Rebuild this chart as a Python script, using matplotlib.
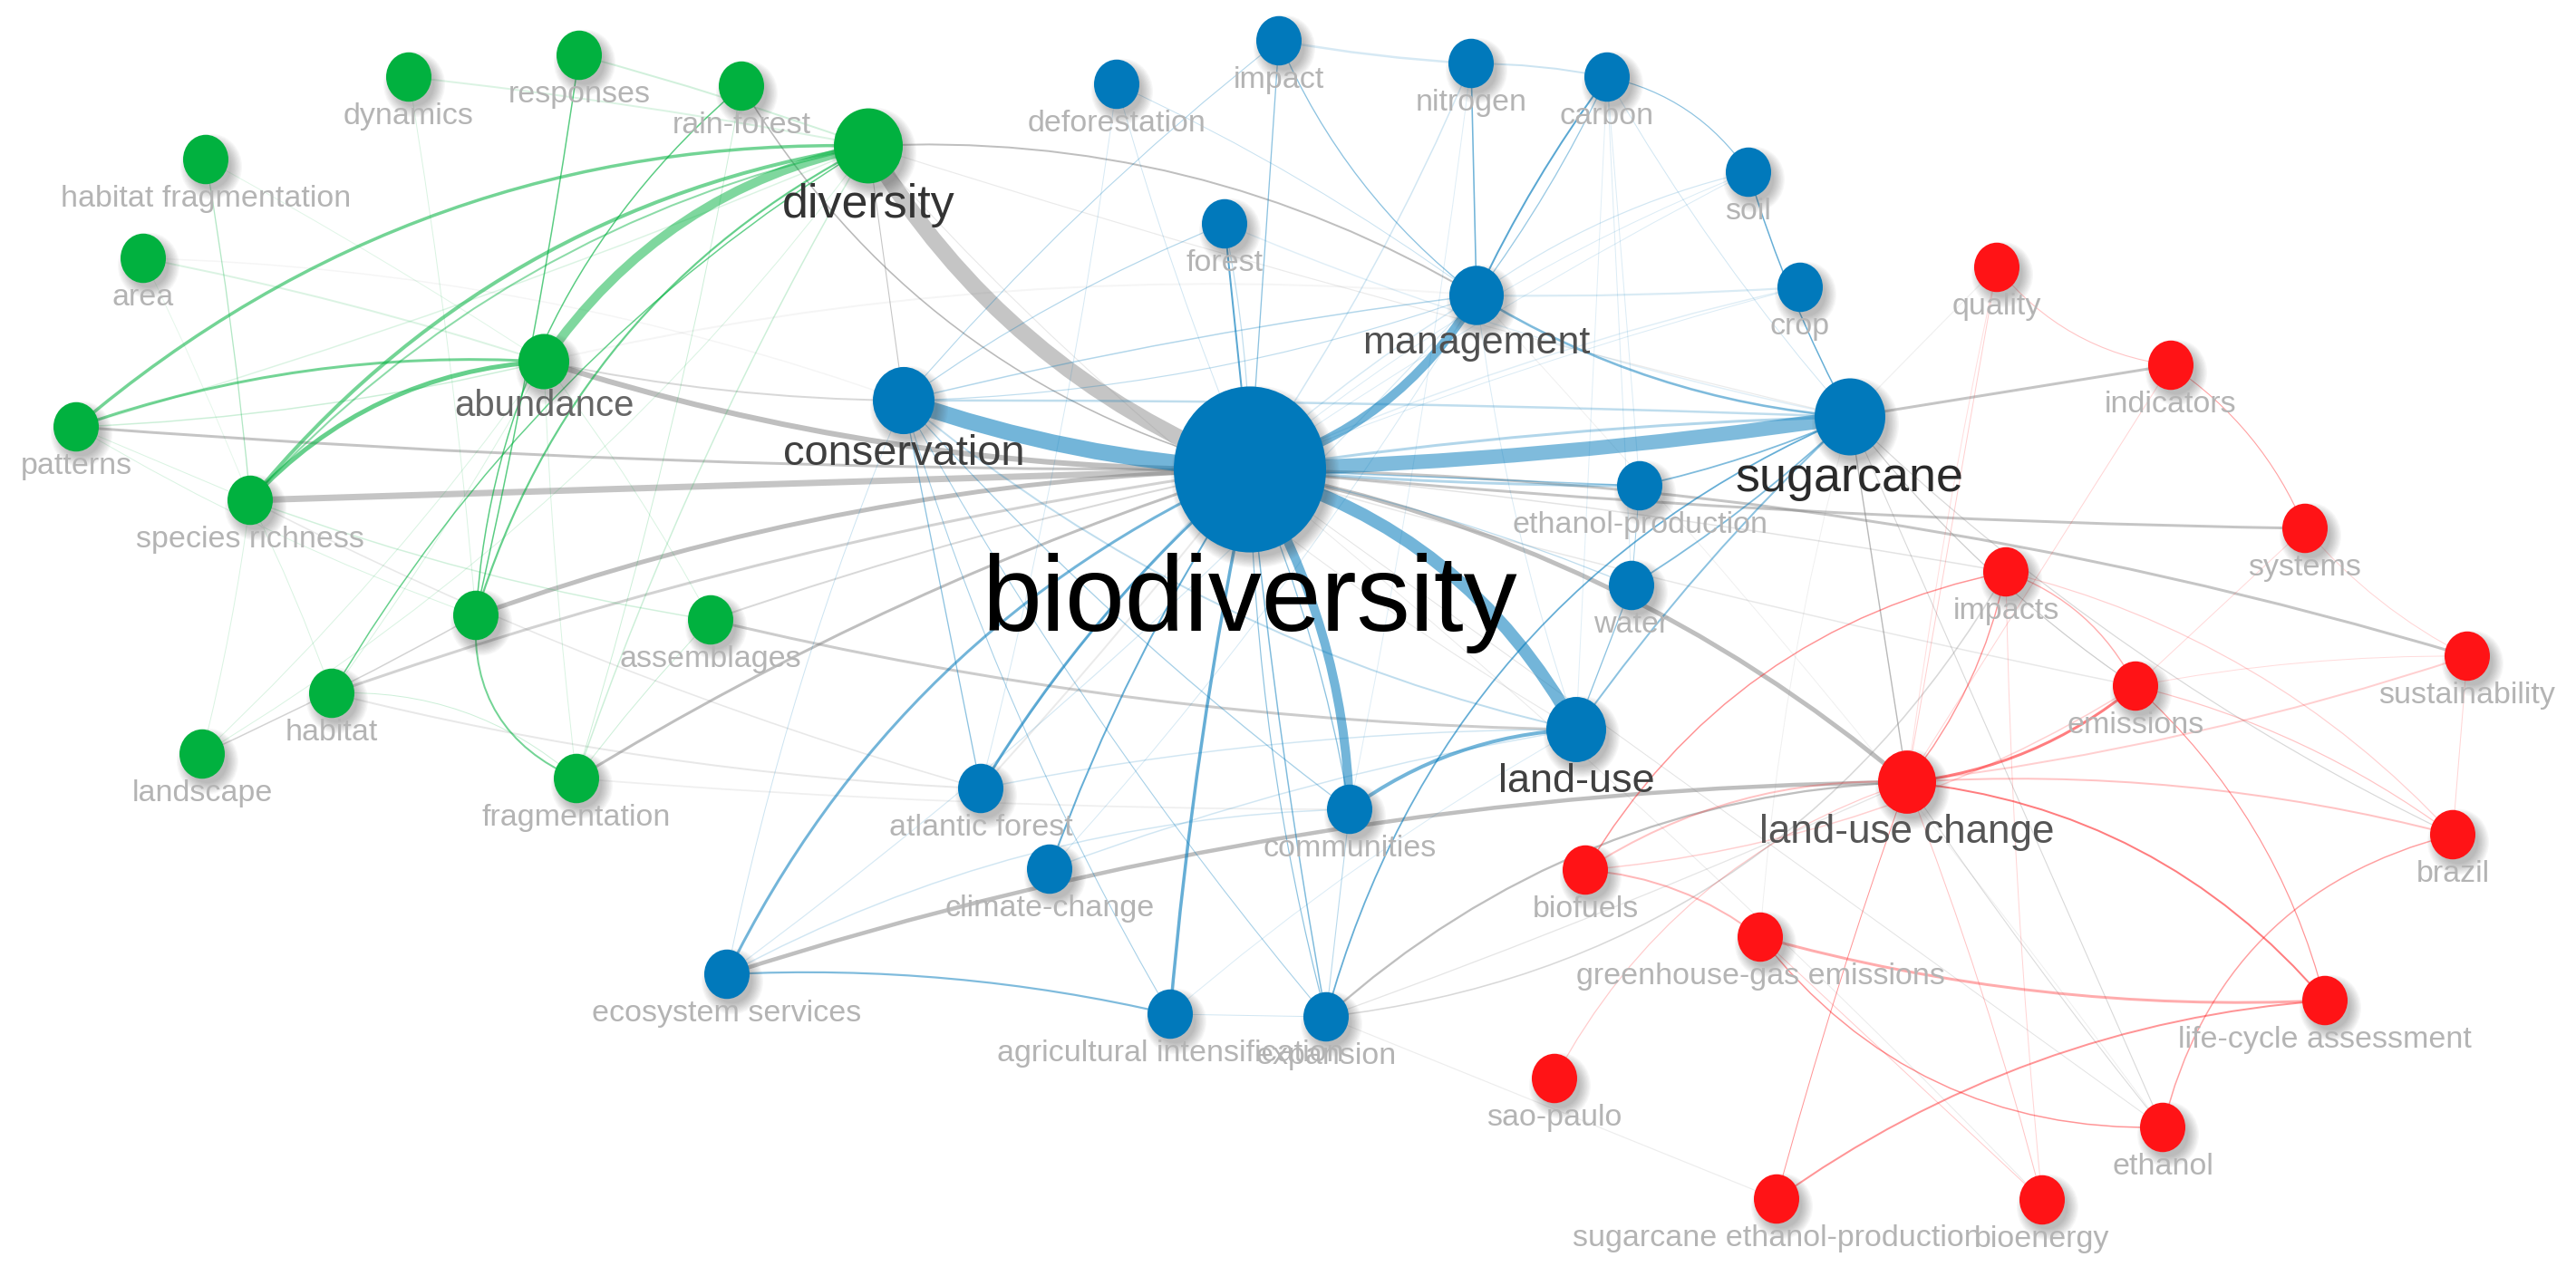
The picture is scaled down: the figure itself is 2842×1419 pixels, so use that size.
import matplotlib
matplotlib.use("Agg")
import numpy as np
import matplotlib.pyplot as plt
from matplotlib.patches import Ellipse, PathPatch
from matplotlib.path import Path

plt.rcParams['font.family'] = ['Liberation Sans', 'DejaVu Sans']

# ---------- data: network nodes (layout position in image pixels) ----------
node_ids = ['biodiversity', 'diversity', 'conservation', 'abundance', 'management', 'sugarcane', 'landuse', 'luc',
            'dynamics', 'responses', 'rainforest', 'habfrag', 'area', 'patterns', 'richness', 'greennode',
            'assemblages', 'habitat', 'landscape', 'fragmentation',
            'impact', 'deforestation', 'nitrogen', 'carbon', 'soil', 'crop', 'forest', 'ethprod', 'water',
            'communities', 'atlantic', 'climate', 'ecoserv', 'agri', 'expansion',
            'quality', 'indicators', 'systems', 'impacts', 'emissions', 'sustainability', 'brazil', 'biofuels',
            'ghg', 'lca', 'ethanol', 'saopaulo', 'sugeth', 'bioenergy']
node_labels = ['biodiversity', 'diversity', 'conservation', 'abundance', 'management', 'sugarcane', 'land-use', 'land-use change',
               'dynamics', 'responses', 'rain-forest', 'habitat fragmentation', 'area', 'patterns', 'species richness', '',
               'assemblages', 'habitat', 'landscape', 'fragmentation',
               'impact', 'deforestation', 'nitrogen', 'carbon', 'soil', 'crop', 'forest', 'ethanol-production', 'water',
               'communities', 'atlantic forest', 'climate-change', 'ecosystem services', 'agricultural intensification', 'expansion',
               'quality', 'indicators', 'systems', 'impacts', 'emissions', 'sustainability', 'brazil', 'biofuels',
               'greenhouse-gas emissions', 'life-cycle assessment', 'ethanol', 'sao-paulo', 'sugarcane ethanol-production', 'bioenergy']
node_x = [1379, 958, 997, 600, 1629, 2041, 1739, 2104,
          451, 639, 818, 227, 158, 84, 276, 525, 784, 366, 223, 636,
          1411, 1232, 1623, 1773, 1929, 1986, 1351, 1809, 1800, 1489, 1082, 1158, 802, 1291, 1463,
          2203, 2395, 2543, 2213, 2356, 2722, 2706, 1749, 1942, 2565, 2386, 1715, 1960, 2253]
node_y = [518, 161, 442, 399, 326, 460, 805, 863,
          85, 61, 95, 176, 285, 471, 552, 679, 684, 765, 832, 859,
          45, 93, 70, 85, 190, 317, 247, 536, 646, 893, 870, 959, 1075, 1119, 1122,
          295, 403, 583, 631, 757, 724, 921, 960, 1034, 1104, 1244, 1190, 1323, 1324]
node_rx = [84, 38, 34, 28, 30, 39, 33, 32] + [25] * 41
node_cluster = ['blue', 'green', 'blue', 'green', 'blue', 'blue', 'blue', 'red'] + ['green'] * 12 + ['blue'] * 15 + ['red'] * 14
label_px = [118, 52, 47, 40, 43, 54, 45, 44] + [34] * 41
label_color = ['#000000', '#333333', '#3f3f3f', '#666666', '#505050', '#2a2a2a', '#404040', '#555555'] + ['#b4b4b4'] * 41

cluster_colors = {'green': '#01b13f', 'blue': '#0179bb', 'red': '#ff1316'}
cross_color = '#808080'

# ---------- data: links (from, to, width px, bow, opacity) ----------
green_links = [
    ('diversity', 'abundance', 10, -0.20, .5), ('diversity', 'richness', 4, -0.19, .55),
    ('diversity', 'patterns', 3.5, -0.19, .55), ('diversity', 'greennode', 2.2, -0.21, .6),
    ('diversity', 'richness', 2, -0.16, .45), ('abundance', 'patterns', 3, -0.10, .55),
    ('richness', 'abundance', 5, 0.20, .6), ('greennode', 'fragmentation', 2, -0.35, .55),
    ('rainforest', 'greennode', 1.5, -0.21, .65), ('responses', 'greennode', 1.5, 0.02, .65),
    ('diversity', 'habitat', 1.5, -0.125, .6),
    ('rainforest', 'fragmentation', 1, 0.03, .2),
    ('responses', 'diversity', 2, 0.02, .18), ('dynamics', 'diversity', 2, 0.02, .14),
    ('habfrag', 'richness', 1.3, 0.02, .3), ('area', 'abundance', 2, 0.03, .14),
    ('area', 'richness', 1, 0.02, .1), ('habfrag', 'abundance', 1, 0.02, .12),
    ('dynamics', 'greennode', 1, 0.02, .15), ('patterns', 'richness', 1, 0.0, .15),
    ('patterns', 'greennode', 1, -0.05, .15), ('richness', 'assemblages', 1.5, -0.05, .18),
    ('richness', 'landscape', 1, 0.03, .15), ('abundance', 'landscape', 1, 0.05, .15),
    ('abundance', 'fragmentation', 1, -0.02, .15), ('abundance', 'habitat', 1, 0.03, .15),
    ('diversity', 'fragmentation', 1.5, -0.05, .2), ('diversity', 'landscape', 1, 0.1, .15),
    ('habitat', 'fragmentation', 1, 0.2, .2), ('assemblages', 'abundance', 1, -0.04, .15),
    ('richness', 'habitat', 1, 0.03, .15), ('fragmentation', 'assemblages', 1, 0.03, .2),
    ('patterns', 'abundance', 1.5, -0.05, .2), ('patterns', 'diversity', 1.5, -0.03, .14),
]
blue_links = [
    ('conservation', 'biodiversity', 18, -0.07, .55), ('biodiversity', 'sugarcane', 16, -0.03, .5),
    ('biodiversity', 'management', 10, -0.20, .55), ('biodiversity', 'landuse', 14, 0.21, .55),
    ('biodiversity', 'communities', 10, 0.13, .55), ('ecoserv', 'biodiversity', 3, 0.18, .55),
    ('ecoserv', 'agri', 2.2, 0.07, .5), ('atlantic', 'biodiversity', 3, 0.08, .6),
    ('climate', 'biodiversity', 2, 0.06, .6), ('agri', 'biodiversity', 3.5, 0.03, .6),
    ('expansion', 'biodiversity', 1.5, 0.02, .5), ('expansion', 'sugarcane', 1.8, 0.24, .6),
    ('landuse', 'sugarcane', 2, 0.05, .45), ('communities', 'landuse', 4, 0.15, .55),
    ('atlantic', 'conservation', 1.3, 0.0, .45), ('biodiversity', 'forest', 2, 0.0, .65),
    ('biodiversity', 'impact', 1.3, 0.0, .45), ('impact', 'management', 1.3, -0.13, .45),
    ('nitrogen', 'management', 1.6, 0.0, .55), ('carbon', 'management', 2, -0.05, .65),
    ('carbon', 'management', 1.3, 0.05, .4), ('nitrogen', 'carbon', 2, 0.05, .2),
    ('impact', 'nitrogen', 2.5, -0.03, .16), ('carbon', 'soil', 1.2, 0.2, .45),
    ('soil', 'sugarcane', 1.5, -0.05, .6), ('crop', 'management', 2.2, 0.02, .15),
    ('management', 'sugarcane', 2.6, -0.12, .5), ('forest', 'sugarcane', 1.5, -0.05, .12),
    ('conservation', 'sugarcane', 2.5, 0.01, .25), ('biodiversity', 'sugarcane', 3, 0.03, .3),
    ('ethprod', 'biodiversity', 3, 0.02, .3), ('ethprod', 'sugarcane', 1.8, -0.05, .5),
    ('water', 'sugarcane', 1.8, -0.05, .5), ('water', 'biodiversity', 1.3, -0.05, .25),
    ('water', 'landuse', 1.3, 0.0, .45), ('water', 'ethprod', 1, 0.0, .35),
    ('conservation', 'management', 1.5, 0.03, .3), ('conservation', 'management', 1.2, -0.08, .25),
    ('conservation', 'forest', 1.2, 0.06, .3), ('conservation', 'impact', 1.1, 0.05, .3),
    ('conservation', 'expansion', 1.1, -0.05, .35),
    ('conservation', 'agri', 1.1, -0.06, .35), ('conservation', 'landuse', 2, -0.12, .25),
    ('conservation', 'communities', 1.3, -0.05, .35), ('deforestation', 'management', 1, 0.05, .22),
    ('deforestation', 'biodiversity', 1, -0.03, .18), ('deforestation', 'atlantic', 1, 0.03, .16),
    ('ecoserv', 'conservation', 1, 0.05, .2), ('ecoserv', 'management', 1.2, -0.05, .16),
    ('ecoserv', 'communities', 1.5, 0.12, .18), ('atlantic', 'landuse', 1.5, 0.05, .18),
    ('atlantic', 'management', 1.5, 0.12, .16), ('climate', 'landuse', 1.5, 0.05, .18),
    ('climate', 'management', 1, -0.05, .16), ('communities', 'biodiversity', 1.3, -0.06, .45),
    ('communities', 'expansion', 1.1, 0.0, .28), ('expansion', 'agri', 1, 0.0, .18),
    ('agri', 'landuse', 1, 0.05, .14), ('biodiversity', 'expansion', 1.2, -0.06, .45),
    ('biodiversity', 'crop', 1.5, 0.05, .12), ('biodiversity', 'soil', 1, 0.08, .14),
    ('carbon', 'sugarcane', 1, -0.05, .18), ('carbon', 'water', 1, 0.0, .14),
    ('carbon', 'ethprod', 1, 0.0, .14), ('carbon', 'landuse', 1, 0.0, .12),
    ('nitrogen', 'biodiversity', 1.5, 0.05, .18), ('nitrogen', 'communities', 1, 0.02, .13),
    ('soil', 'management', 1.2, -0.1, .18), ('soil', 'biodiversity', 1, -0.03, .14),
    ('crop', 'biodiversity', 1, -0.03, .14), ('forest', 'biodiversity', 1.2, 0.05, .25),
    ('management', 'landuse', 1, -0.05, .15), ('biodiversity', 'ethprod', 1.5, 0.0, .4),
]
red_links = [
    ('luc', 'emissions', 3, -0.15, .55), ('luc', 'lca', 2, 0.20, .55), ('luc', 'brazil', 2, 0.08, .25),
    ('luc', 'sustainability', 2, -0.05, .2), ('impacts', 'biofuels', 1.5, -0.22, .45),
    ('impacts', 'luc', 1.4, 0.12, .45), ('impacts', 'emissions', 1.4, 0.20, .35),
    ('emissions', 'lca', 1.2, 0.15, .45), ('impacts', 'brazil', 1.2, 0.15, .2),
    ('biofuels', 'luc', 2, 0.16, .25), ('biofuels', 'ghg', 2, 0.15, .3),
    ('ghg', 'lca', 3, -0.08, .35), ('ghg', 'ethanol', 1.5, -0.25, .45),
    ('ghg', 'bioenergy', 1, 0.0, .22), ('lca', 'sugeth', 2, -0.14, .45),
    ('sugeth', 'luc', 1, 0.02, .45), ('brazil', 'ethanol', 1.5, -0.30, .4),
    ('brazil', 'sustainability', 1, 0.0, .18), ('indicators', 'systems', 1.1, 0.15, .4),
    ('quality', 'indicators', 1.1, -0.20, .25), ('quality', 'luc', 1, 0.0, .2),
    ('indicators', 'luc', 1, 0.0, .18), ('systems', 'sustainability', 1, -0.1, .18),
    ('systems', 'emissions', 1, 0.0, .16), ('saopaulo', 'luc', 1.2, 0.20, .22),
    ('emissions', 'brazil', 1.2, 0.1, .25), ('sustainability', 'emissions', 1, -0.05, .15),
    ('emissions', 'biofuels', 1.5, 0.12, .2), ('luc', 'bioenergy', 1, 0.03, .25),
    ('impacts', 'bioenergy', 1, -0.02, .18), ('quality', 'luc', 1, -0.02, .14),
]
cross_links = [
    ('biodiversity', 'diversity', 18, 0.17, .45), ('abundance', 'biodiversity', 6, -0.08, .5),
    ('richness', 'biodiversity', 7, 0.0, .45), ('patterns', 'biodiversity', 3, -0.02, .45),
    ('greennode', 'biodiversity', 5, 0.08, .5), ('habitat', 'biodiversity', 3, 0.05, .35),
    ('fragmentation', 'biodiversity', 3, 0.06, .5), ('landscape', 'greennode', 1.5, -0.02, .35),
    ('assemblages', 'biodiversity', 2, 0.03, .3), ('assemblages', 'landuse', 3, -0.055, .4),
    ('ecoserv', 'luc', 4.5, 0.076, .5), ('biodiversity', 'luc', 5, 0.13, .5),
    ('sugarcane', 'indicators', 3, 0.0, .45), ('sugarcane', 'luc', 1.4, 0.0, .55),
    ('biodiversity', 'systems', 3, -0.02, .45), ('biodiversity', 'sustainability', 3, 0.07, .45),
    ('diversity', 'management', 2, 0.15, .5), ('abundance', 'conservation', 2, -0.05, .3),
    ('diversity', 'conservation', 1.1, 0.0, .45), ('rainforest', 'biodiversity', 1.6, -0.2, .55),
    ('expansion', 'luc', 2.3, 0.18, .5), ('expansion', 'luc', 1.3, -0.02, .2),
    ('expansion', 'impacts', 1.6, -0.25, .3), ('expansion', 'sugeth', 1.2, 0.0, .14),
    ('sugarcane', 'ethanol', 1.1, 0.0, .3), ('sugarcane', 'emissions', 1.2, -0.08, .4),
    ('management', 'ethanol', 1, 0.03, .12), ('biodiversity', 'ethanol', 1, 0.0, .22),
    ('biodiversity', 'bioenergy', 1, 0.03, .16), ('emissions', 'biodiversity', 1.5, 0.02, .18),
    ('biodiversity', 'impacts', 1.5, 0.02, .22), ('brazil', 'sugarcane', 1.2, 0.08, .3),
    ('luc', 'ethanol', 1.1, -0.02, .28), ('atlantic', 'biodiversity', 2, -0.02, .16),
    ('fragmentation', 'communities', 1.8, -0.02, .12), ('habitat', 'atlantic', 2, -0.05, .18),
    ('richness', 'atlantic', 1.6, -0.05, .18), ('area', 'conservation', 1.5, 0.08, .08),
    ('abundance', 'management', 2, 0.08, .08), ('diversity', 'sugarcane', 1.2, -0.02, .16),
    ('diversity', 'landuse', 1.1, -0.08, .18), ('sugarcane', 'quality', 1.2, 0.0, .12),
    ('ghg', 'sugarcane', 1, 0.05, .12),
]

# ---------- drawing ----------
fig = plt.figure(figsize=(28.42, 14.19), dpi=100, facecolor='white')
ax = fig.add_axes([0, 0, 1, 1])
ax.set_xlim(0, 2842)
ax.set_ylim(1419, 0)
ax.axis('off')

index = {n: i for i, n in enumerate(node_ids)}
PX = 72 / 100


def draw_link(a, b, width, bow, opacity, color):
    ia, ib = index[a], index[b]
    p0 = np.array([node_x[ia], node_y[ia]], float)
    p1 = np.array([node_x[ib], node_y[ib]], float)
    d = p1 - p0
    ctrl = (p0 + p1) / 2 + bow * np.array([d[1], -d[0]])
    path = Path([p0, ctrl, p1], [Path.MOVETO, Path.CURVE3, Path.CURVE3])
    ax.add_patch(PathPatch(path, fill=False, edgecolor=color, alpha=opacity,
                           lw=width * PX, capstyle='round', zorder=1))


for a, b, w, bow, op in cross_links:
    draw_link(a, b, w, bow, op, cross_color)
for links, key in ((green_links, 'green'), (blue_links, 'blue'), (red_links, 'red')):
    for a, b, w, bow, op in links:
        draw_link(a, b, w, bow, op, cluster_colors[key])

ASPECT = 1.09
for x, y, rx, cl in zip(node_x, node_y, node_rx, node_cluster):
    ry = rx * ASPECT
    for grow in np.linspace(9, -3, 10):
        ax.add_patch(Ellipse((x + 6, y + 8), 2 * (rx + grow), 2 * (ry + grow), facecolor='#404040',
                             edgecolor='none', alpha=0.04, zorder=2))
    ax.add_patch(Ellipse((x, y), 2 * rx, 2 * ry, facecolor=cluster_colors[cl],
                         edgecolor='none', zorder=3))

for x, y, rx, text, px, col in zip(node_x, node_y, node_rx, node_labels, label_px, label_color):
    if text:
        ax.text(x, y + rx * ASPECT + 0.73 * px, text, fontsize=px * PX, color=col,
                ha='center', va='baseline', zorder=4)

fig.savefig('out.png', dpi=100, facecolor='white')
